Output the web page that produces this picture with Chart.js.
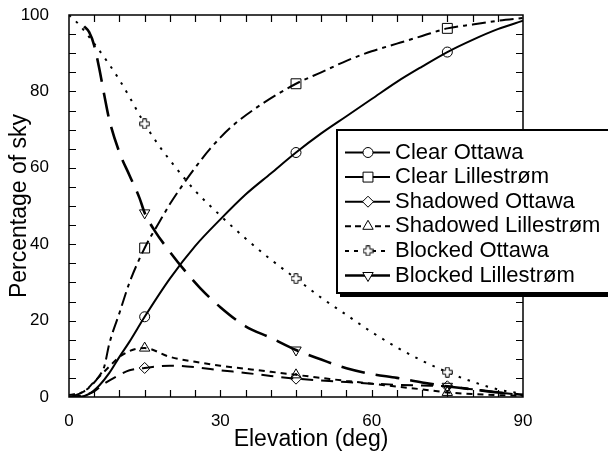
<!DOCTYPE html>
<html>
<head>
<meta charset="utf-8">
<script src="https://cdn.jsdelivr.net/npm/chart.js@4.4.0/dist/chart.umd.min.js"></script>
<style>
  html, body { margin: 0; padding: 0; background: #fff; overflow: hidden; }
  canvas { display: block; }
</style>
</head>
<body>
<canvas id="skyChart" width="608" height="458"></canvas>
<script>
// elevation (deg) / percentage of sky, one pair of arrays per curve
const clearOttawaElev = [0, 2, 4, 6, 8, 10, 12, 15, 20, 25, 30, 35, 40, 45, 50, 55, 60, 65, 70, 75, 80, 85, 90];
const clearOttawaPct  = [0, 0, 0.8, 3, 6.3, 10.5, 14.5, 21, 31, 39.5, 46.5, 53, 58.5, 64, 69, 73.5, 78, 82.5, 86.5, 90.3, 93.5, 96.3, 98.5];

const clearLilleElev = [0, 2, 4, 6, 7, 8, 10, 12, 15, 18, 20, 22, 25, 28, 32, 38, 45, 50, 55, 60, 65, 70, 75, 80, 85, 90];
const clearLillePct  = [0, 0.8, 2.5, 5.5, 8, 14, 22, 30, 39, 46, 50.5, 54.5, 60, 65, 70.5, 76.5, 82, 85, 88, 90.5, 92.5, 94.5, 96.5, 97.5, 98.5, 99.2];

const shadowOttawaElev = [0, 3, 5, 7, 10, 12, 15, 20, 25, 30, 35, 40, 45, 50, 55, 60, 65, 70, 75, 80, 85, 90];
const shadowOttawaPct  = [0, 0.5, 1.5, 3.5, 5.8, 7, 7.6, 8.2, 7.8, 7, 6.3, 5.5, 4.8, 4.3, 3.9, 3.5, 3.2, 3, 2.8, 2, 1.2, 0.5];

const shadowLilleElev = [0, 3, 5, 8, 10, 13, 15, 20, 25, 30, 35, 40, 45, 50, 55, 60, 65, 70, 75, 80, 85, 90];
const shadowLillePct  = [0.5, 1.5, 4, 8, 10.5, 12.5, 12.8, 10.5, 9.2, 8.2, 7.4, 6.6, 5.8, 5, 4.2, 3.5, 2.7, 2, 1.2, 0.8, 0.5, 0.3];

const blockedOttawaElev = [0, 2, 5, 8, 10, 12, 15, 18, 20, 25, 30, 35, 40, 45, 50, 55, 60, 65, 70, 75, 80, 85, 90];
const blockedOttawaPct  = [100, 97.5, 92.5, 87, 83, 78.5, 71.5, 65.5, 62, 54, 47.5, 41.5, 36, 31, 26, 21.5, 17, 13, 9.5, 6.5, 4, 2, 0.8];

const blockedLilleElev = [3, 4, 5, 6, 7, 8, 10, 12, 14, 15, 17, 20, 23, 26, 30, 35, 40, 45, 50, 55, 60, 65, 70, 75, 80, 85, 90];
const blockedLillePct  = [97, 95.5, 92, 86, 79, 72.5, 64, 58, 52, 48.2, 43.5, 38, 33, 28.5, 23.5, 18.5, 15.5, 12.3, 9.8, 7.5, 6, 5, 3.8, 2.8, 2, 1.2, 0.6];

const markerElev = [15, 45, 75];
const seriesNames = ['Clear Ottawa', 'Clear Lillestrøm', 'Shadowed Ottawa', 'Shadowed Lillestrøm', 'Blocked Ottawa', 'Blocked Lillestrøm'];
const xTicks = [0, 30, 60, 90];
const yTicks = [0, 20, 40, 60, 80, 100];

const FONT = "'Liberation Sans', Arial, sans-serif";

// hollow plus marker, Chart.js has only the stroked cross
function plusMarker() {
  const c = document.createElement('canvas');
  c.width = c.height = 11;
  const g = c.getContext('2d');
  const a = 1.8, b = 4.8, m = 5.5;
  g.beginPath();
  g.moveTo(m - a, m - b); g.lineTo(m + a, m - b); g.lineTo(m + a, m - a);
  g.lineTo(m + b, m - a); g.lineTo(m + b, m + a); g.lineTo(m + a, m + a);
  g.lineTo(m + a, m + b); g.lineTo(m - a, m + b); g.lineTo(m - a, m + a);
  g.lineTo(m - b, m + a); g.lineTo(m - b, m - a); g.lineTo(m - a, m - a);
  g.closePath();
  g.fillStyle = '#fff';
  g.fill();
  g.lineWidth = 1;
  g.strokeStyle = '#000';
  g.stroke();
  return c;
}

function makeSeries(i, elev, pct, size, style) {
  return Object.assign({
    label: seriesNames[i],
    data: elev.map((x, k) => ({ x: x, y: pct[k] })),
    borderColor: '#000',
    borderWidth: 2,
    fill: false,
    tension: 0.35,
    cubicInterpolationMode: 'monotone',
    markerSize: size,
    pointRadius: elev.map(x => markerElev.includes(x) ? size : 0),
    pointBorderColor: '#000',
    pointBorderWidth: 1,
    pointBackgroundColor: 'rgba(0,0,0,0)'
  }, style);
}

const datasets = [
  makeSeries(0, clearOttawaElev, clearOttawaPct, 5, { pointStyle: 'circle' }),
  makeSeries(1, clearLilleElev, clearLillePct, 7, { pointStyle: 'rect', borderDash: [14, 5, 4, 5] }),
  makeSeries(2, shadowOttawaElev, shadowOttawaPct, 5.5, { pointStyle: 'rectRot', borderDash: [12, 8] }),
  makeSeries(3, shadowLilleElev, shadowLillePct, 6, { pointStyle: 'triangle', borderDash: [6, 5] }),
  makeSeries(4, blockedOttawaElev, blockedOttawaPct, 5.5, { pointStyle: plusMarker(), borderDash: [2.5, 7] }),
  makeSeries(5, blockedLilleElev, blockedLillePct, 6, { pointStyle: 'triangle', pointRotation: 180, borderDash: [24, 11], borderWidth: 2.6 })
];

// dash patterns for the short legend samples
const legendDash = [[], [], [], [6, 4], [4, 5], []];

// frame on all four sides with inward ticks every 5 units, plus the x title
const framePlugin = {
  id: 'frame',
  afterDatasetsDraw(chart) {
    const { ctx, chartArea: a, scales } = chart;
    const len = 7;
    ctx.save();
    ctx.strokeStyle = '#000';
    ctx.lineWidth = 1.5;
    ctx.strokeRect(a.left, a.top, a.right - a.left, a.bottom - a.top);
    ctx.lineWidth = 1.2;
    ctx.beginPath();
    for (let v = 5; v < 90; v += 5) {
      const px = Math.round(scales.x.getPixelForValue(v)) + 0.5;
      ctx.moveTo(px, a.bottom); ctx.lineTo(px, a.bottom - len);
      ctx.moveTo(px, a.top); ctx.lineTo(px, a.top + len);
    }
    for (let v = 5; v < 100; v += 5) {
      const py = Math.round(scales.y.getPixelForValue(v)) + 0.5;
      ctx.moveTo(a.left, py); ctx.lineTo(a.left + len, py);
      ctx.moveTo(a.right, py); ctx.lineTo(a.right - len, py);
    }
    ctx.stroke();

    ctx.fillStyle = '#000';
    ctx.font = '23px ' + FONT;
    ctx.textAlign = 'center';
    ctx.textBaseline = 'middle';
    ctx.fillText('Elevation (deg)', (a.left + a.right) / 2 + 15, 440);
    ctx.restore();
  }
};

// boxed legend with drop shadow, running off the right edge
const legendPlugin = {
  id: 'boxLegend',
  afterDraw(chart) {
    const ctx = chart.ctx;
    const bx = 337, by = 130, bw = 330, bh = 163;
    ctx.save();
    ctx.fillStyle = '#000';
    ctx.fillRect(bx + 3, by + 3, bw, bh + 1);
    ctx.fillStyle = '#fff';
    ctx.fillRect(bx, by, bw, bh);
    ctx.lineWidth = 2;
    ctx.strokeStyle = '#000';
    ctx.strokeRect(bx, by, bw, bh);
    chart.data.datasets.forEach((ds, i) => {
      const y = by + 22.5 + i * 24.6;
      ctx.lineWidth = ds.borderWidth;
      ctx.setLineDash(legendDash[i]);
      ctx.beginPath();
      ctx.moveTo(345, y);
      ctx.lineTo(390, y);
      ctx.stroke();
      ctx.setLineDash([]);
      ctx.fillStyle = '#fff';
      ctx.lineWidth = 1;
      Chart.helpers.drawPoint(ctx, {
        pointStyle: ds.pointStyle,
        rotation: ds.pointRotation || 0,
        radius: ds.markerSize,
        borderWidth: 1
      }, 368, y);
      ctx.fillStyle = '#000';
      ctx.font = '22px ' + FONT;
      ctx.textBaseline = 'middle';
      ctx.textAlign = 'left';
      ctx.fillText(ds.label, 395, y);
    });
    ctx.restore();
  }
};

new Chart(document.getElementById('skyChart'), {
  type: 'line',
  data: { datasets: datasets },
  options: {
    responsive: false,
    animation: false,
    events: [],
    layout: { padding: { top: 15, right: 85, left: 0, bottom: 0 } },
    plugins: { legend: { display: false }, tooltip: { enabled: false } },
    scales: {
      x: {
        type: 'linear',
        min: 0, max: 90,
        afterFit: s => { s.height = 61; s.paddingLeft = 0; s.paddingRight = 0; },
        afterBuildTicks: s => { s.ticks = xTicks.map(v => ({ value: v })); },
        grid: { display: false },
        border: { display: false },
        ticks: { color: '#000', padding: 6, font: { family: FONT, size: 17 } }
      },
      y: {
        min: 0, max: 100,
        afterFit: s => { s.width = 69; s.paddingTop = 0; s.paddingBottom = 0; },
        afterBuildTicks: s => { s.ticks = yTicks.map(v => ({ value: v })); },
        grid: { display: false },
        border: { display: false },
        ticks: { color: '#000', padding: 12, font: { family: FONT, size: 17 } },
        title: { display: true, text: 'Percentage of sky', color: '#000', padding: { top: 6, bottom: 0 }, font: { family: FONT, size: 23 } }
      }
    }
  },
  plugins: [framePlugin, legendPlugin]
});
</script>
</body>
</html>
